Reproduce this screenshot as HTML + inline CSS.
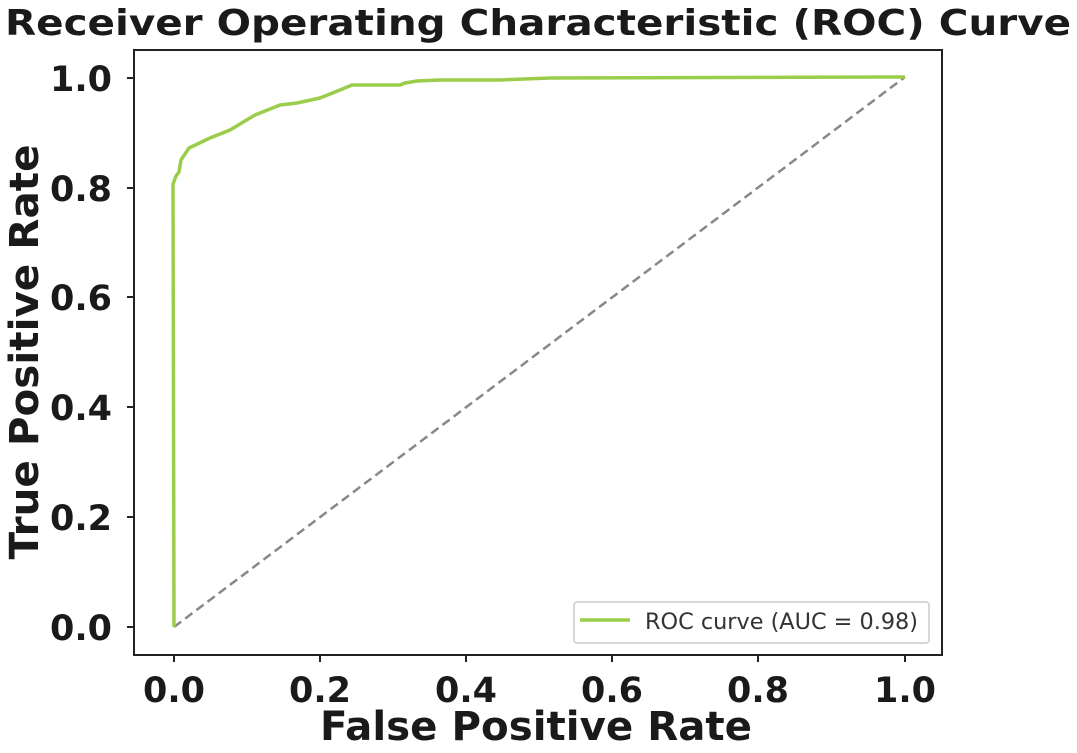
<!DOCTYPE html>
<html><head><style>html,body{margin:0;padding:0;background:#fff}</style></head>
<body>
<svg width="1077" height="748" viewBox="0 0 1077 748" xmlns="http://www.w3.org/2000/svg" font-family="DejaVu Sans, Liberation Sans, sans-serif">
<text x="538" y="35" text-anchor="middle" font-size="36" font-weight="bold" fill="#1a1a1a" textLength="1066" lengthAdjust="spacingAndGlyphs">Receiver Operating Characteristic (ROC) Curve</text>
<rect x="134" y="50" width="808" height="605" fill="none" stroke="#222" stroke-width="2"/>
<g stroke="#222" stroke-width="2">
<line x1="127" y1="78" x2="134" y2="78"/><line x1="127" y1="188" x2="134" y2="188"/><line x1="127" y1="297" x2="134" y2="297"/><line x1="127" y1="407" x2="134" y2="407"/><line x1="127" y1="517" x2="134" y2="517"/><line x1="127" y1="627" x2="134" y2="627"/>
<line x1="174" y1="655" x2="174" y2="662"/><line x1="320" y1="655" x2="320" y2="662"/><line x1="466" y1="655" x2="466" y2="662"/><line x1="612" y1="655" x2="612" y2="662"/><line x1="758" y1="655" x2="758" y2="662"/><line x1="905" y1="655" x2="905" y2="662"/>
</g>
<g font-size="35" font-weight="bold" fill="#1a1a1a" text-anchor="end">
<text x="112" y="91">1.0</text><text x="112" y="201">0.8</text><text x="112" y="310">0.6</text><text x="112" y="420">0.4</text><text x="112" y="530">0.2</text><text x="112" y="640">0.0</text>
</g>
<g font-size="35" font-weight="bold" fill="#1a1a1a" text-anchor="middle">
<text x="174" y="702">0.0</text><text x="320" y="702">0.2</text><text x="466" y="702">0.4</text><text x="612" y="702">0.6</text><text x="758" y="702">0.8</text><text x="905" y="702">1.0</text>
</g>
<text x="536" y="740" text-anchor="middle" font-size="40" font-weight="bold" fill="#1a1a1a" textLength="432" lengthAdjust="spacingAndGlyphs">False Positive Rate</text>
<text transform="translate(38,352) rotate(-90)" text-anchor="middle" font-size="40" font-weight="bold" fill="#1a1a1a" textLength="415" lengthAdjust="spacingAndGlyphs">True Positive Rate</text>
<line x1="174" y1="627" x2="905" y2="77" stroke="#888" stroke-width="2.5" stroke-dasharray="9,5"/>
<polyline fill="none" stroke="#9acd4a" stroke-width="3.5" stroke-linejoin="round" points="174,627 173,184 176,176 179,172 181,160 189,148 210,138 230,130 255,115 280,105 297,103 320,98 340,90 352,85 400,85 405,83 417,81 440,80 500,80 550,78 905,77"/>
<rect x="574" y="602" width="355" height="41" rx="3" fill="#fff" stroke="#ccc" stroke-width="1.5"/>
<line x1="580" y1="620" x2="630" y2="620" stroke="#9acd4a" stroke-width="3.5"/>
<text x="645" y="629" font-size="22" fill="#333" textLength="273" lengthAdjust="spacingAndGlyphs">ROC curve (AUC = 0.98)</text>
</svg>
</body></html>
